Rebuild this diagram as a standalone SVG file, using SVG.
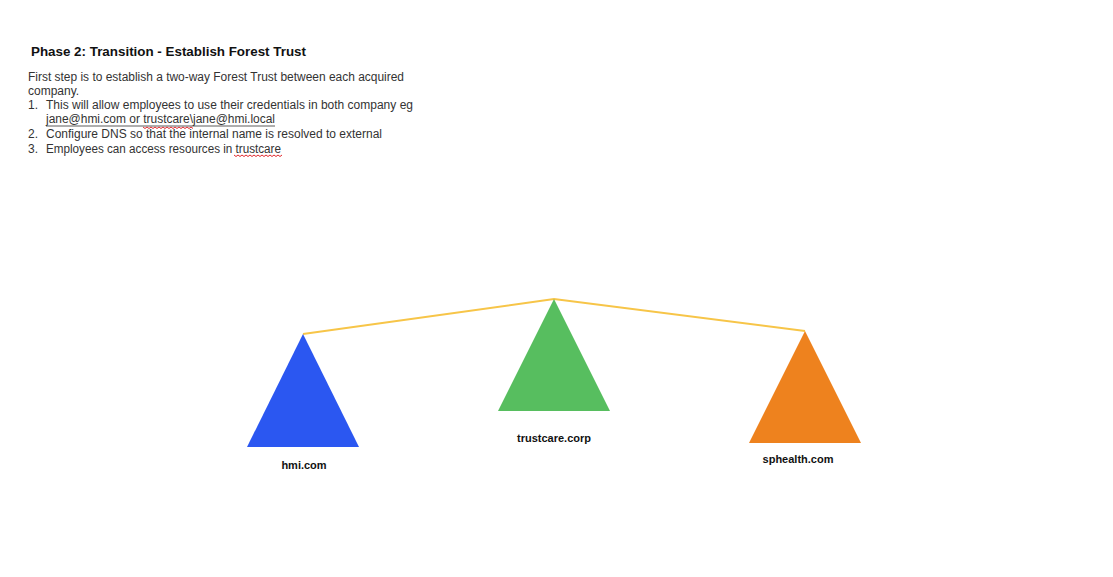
<svg xmlns="http://www.w3.org/2000/svg" width="1113" height="577" viewBox="0 0 1113 577">
<style>
.title{font-family:"Liberation Sans",Arial,sans-serif;font-weight:bold;font-size:13px;fill:#111}
.body{font-family:"Liberation Sans",Arial,sans-serif;font-size:12px;fill:#333}
.lbl{font-family:"Liberation Sans",Arial,sans-serif;font-weight:bold;font-size:11px;fill:#111;text-anchor:middle}
.squig{stroke:#e0282d;stroke-width:1;fill:none}
</style>
<rect width="1113" height="577" fill="#fff"/>
<g id="text">
<text class="title" x="31" y="56" textLength="275" lengthAdjust="spacingAndGlyphs">Phase 2: Transition - Establish Forest Trust</text>
<text class="body" x="28" y="81" textLength="376" lengthAdjust="spacingAndGlyphs">First step is to establish a two-way Forest Trust between each acquired</text>
<text class="body" x="28" y="95">company.</text>
<text class="body" x="28" y="109">1.</text>
<text class="body" x="46" y="109" textLength="367" lengthAdjust="spacingAndGlyphs">This will allow employees to use their credentials in both company eg</text>
<text class="body" x="46" y="123" textLength="229" lengthAdjust="spacingAndGlyphs">jane@hmi.com or trustcare\jane@hmi.local</text>
<line x1="46" y1="126" x2="275" y2="126" stroke="#333" stroke-width="0.8"/>
<path class="squig" d="M143 127 l2 1.5 l2 -1.5 l2 1.5 l2 -1.5 l2 1.5 l2 -1.5 l2 1.5 l2 -1.5 l2 1.5 l2 -1.5 l2 1.5 l2 -1.5 l2 1.5 l2 -1.5 l2 1.5 l2 -1.5 l2 1.5 l2 -1.5 l2 1.5 l2 -1.5 l2 1.5 l2 -1.5 l2 1.5 l2 -1.5 l2 1.5"/>
<text class="body" x="28" y="138">2.</text>
<text class="body" x="46" y="138" textLength="336" lengthAdjust="spacingAndGlyphs">Configure DNS so that the internal name is resolved to external</text>
<text class="body" x="28" y="153">3.</text>
<text class="body" x="46" y="153" textLength="235" lengthAdjust="spacingAndGlyphs">Employees can access resources in trustcare</text>
<path class="squig" d="M234 155 l2 1.5 l2 -1.5 l2 1.5 l2 -1.5 l2 1.5 l2 -1.5 l2 1.5 l2 -1.5 l2 1.5 l2 -1.5 l2 1.5 l2 -1.5 l2 1.5 l2 -1.5 l2 1.5 l2 -1.5 l2 1.5 l2 -1.5 l2 1.5 l2 -1.5 l2 1.5 l2 -1.5 l2 1.5 l2 -1.5"/>
</g>
<g id="connectors">
<polyline points="303,334 554,299 805,331" fill="none" stroke="#F7C548" stroke-width="2"/>
</g>
<g id="hmi">
<polygon points="303,334 359,447 247,447" fill="#2B57F1"/>
<text class="lbl" x="304" y="469">hmi.com</text>
</g>
<g id="trustcare">
<polygon points="554,299 610,411 498,411" fill="#57BE5F"/>
<text class="lbl" x="554" y="442">trustcare.corp</text>
</g>
<g id="sphealth">
<polygon points="805,331 861,443 749,443" fill="#EE821E"/>
<text class="lbl" x="798" y="463">sphealth.com</text>
</g>
</svg>
